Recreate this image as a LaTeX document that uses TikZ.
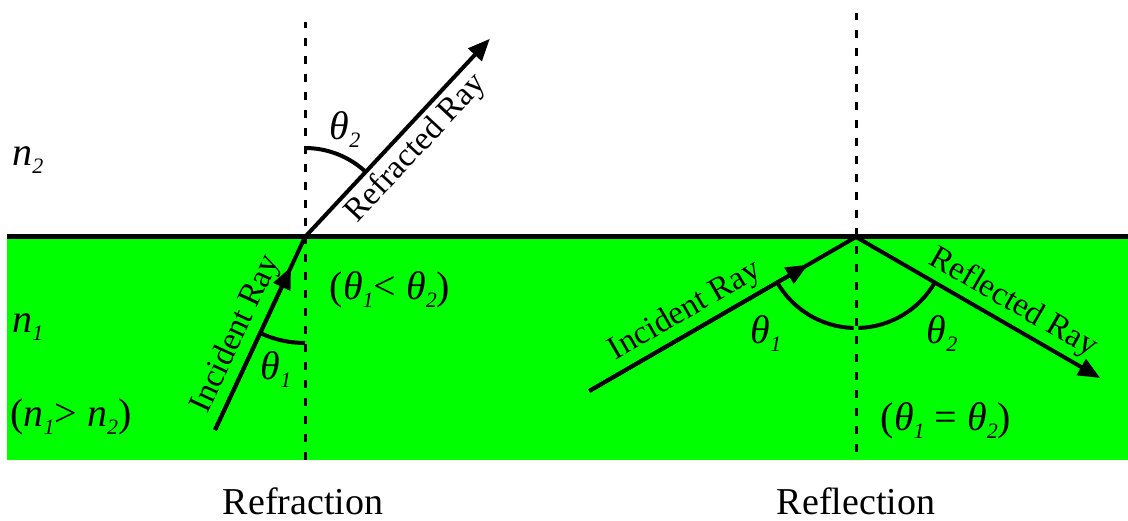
\documentclass[tikz,border=0pt]{standalone}
\usepackage{fontspec}
\setmainfont{Liberation Serif}
\usetikzlibrary{arrows.meta,calc}
\definecolor{medium}{HTML}{00FF00}
\newcommand{\lowidx}[1]{\raisebox{-8pt}{\fontsize{22}{22}\selectfont\itshape #1}}
\newcommand{\thsub}[1]{\textit{θ}\lowidx{#1}}
\newcommand{\nsub}[1]{\textit{n}\lowidx{#1}}

\begin{document}
\begin{tikzpicture}[x=1pt,y=1pt,
        ray/.style={line width=4pt},
        rayhead/.style={-{Triangle[length=22pt,width=18pt]}},
        normal/.style={line width=3pt,dash pattern=on 8pt off 10pt},
        anglearc/.style={line width=4pt},
        lbl/.style={font=\fontsize{40}{44}\selectfont,inner sep=0pt},
        raylbl/.style={font=\fontsize{33}{38}\selectfont,sloped,inner sep=4pt},
        title/.style={font=\fontsize{38}{44}\selectfont,inner sep=0pt}]
      \useasboundingbox (0,0) rectangle (1128,520);
      \fill[medium] (7,60) rectangle (1128,283);
      \coordinate (sl) at (7,283);
      \coordinate (sr) at (1128,283);
      \draw[line width=5pt] (sl) -- (sr);
      % refraction
      \coordinate (o1)  at (305,283);
      \coordinate (s1)  at ($(o1)+(245:213)$);
      \coordinate (e1)  at ($(o1)+(47:271)$);
      \coordinate (n1b) at (305,60);
      \coordinate (n1t) at (305,498);
      \draw[normal] (n1b) -- (n1t);
      \draw[ray,rayhead] (s1) -- ($(s1)!0.845!(o1)$);
      \draw[ray] (s1) -- node[raylbl,above,pos=0.45]{Incident Ray} (o1);
      \draw[ray,rayhead] (o1) -- node[raylbl,below,pos=0.52]{Refracted Ray} (e1);
      \draw[anglearc] ($(o1)+(245:106)$) arc[start angle=245,end angle=270,radius=106];
      \draw[anglearc] ($(o1)+(47:89)$) arc[start angle=47,end angle=90,radius=89];
      % reflection
      \coordinate (o2)  at (856,283);
      \coordinate (s2)  at ($(o2)+(210:308)$);
      \coordinate (e2)  at ($(o2)+(330:282)$);
      \coordinate (n2b) at (856,68);
      \coordinate (n2t) at (856,507);
      \draw[normal] (n2b) -- (n2t);
      \draw[ray,rayhead] (s2) -- ($(s2)!0.82!(o2)$);
      \draw[ray] (s2) -- node[raylbl,above,pos=0.4]{Incident Ray} (o2);
      \draw[ray,rayhead] (o2) -- node[raylbl,above,pos=0.6]{Reflected Ray} (e2);
      \draw[anglearc] ($(o2)+(210:91)$) arc[start angle=210,end angle=268.5,radius=91];
      \draw[anglearc] ($(o2)+(271.5:91)$) arc[start angle=271.5,end angle=330,radius=91];
      % labels
      \node[lbl] (n2lbl) at (28,360) {\nsub{2}};
      \node[lbl] (n1lbl) at (28,193) {\nsub{1}};
      \node[lbl,anchor=west] (nrel) at (10,103) {(\nsub{1}> \nsub{2})};
      \node[lbl] (th2a) at (345,390) {\thsub{2}};
      \node[lbl] (th1a) at (276,150) {\thsub{1}};
      \node[lbl] (cmpa) at (390,230) {(\thsub{1}< \thsub{2})};
      \node[lbl] (th1b) at (766,186) {\thsub{1}};
      \node[lbl] (th2b) at (942,186) {\thsub{2}};
      \node[lbl] (cmpb) at (946,99) {(\thsub{1} = \thsub{2})};
      \node[title] (refr) at (303,19) {Refraction};
      \node[title] (refl) at (856,19) {Reflection};
    \end{tikzpicture}
\end{document}
